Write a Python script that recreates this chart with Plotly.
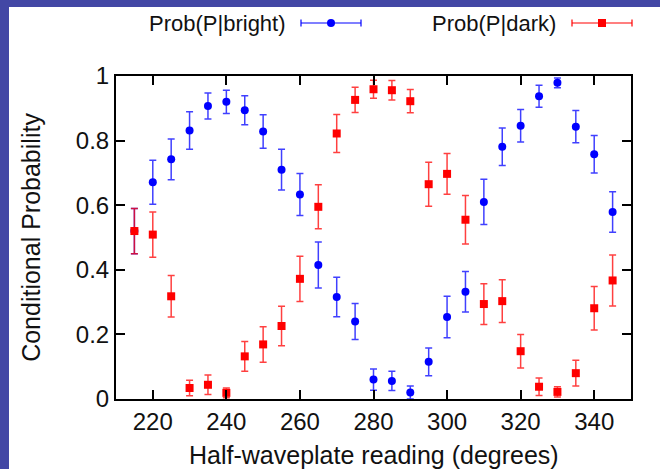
import plotly.graph_objects as go

# Data
angles = [215, 220, 225, 230, 235, 240, 245, 250, 255, 260, 265, 270, 275, 280,
          285, 290, 295, 300, 305, 310, 315, 320, 325, 330, 335, 340, 345]

prob_bright = [0.520, 0.671, 0.742, 0.831, 0.907, 0.920, 0.894, 0.828, 0.710, 0.633,
               0.415, 0.316, 0.240, 0.060, 0.056, 0.020, 0.115, 0.254, 0.332, 0.610,
               0.781, 0.846, 0.937, 0.979, 0.843, 0.758, 0.579]
err_bright = [0.070, 0.068, 0.063, 0.058, 0.040, 0.036, 0.045, 0.052, 0.063, 0.065,
              0.071, 0.061, 0.056, 0.033, 0.030, 0.020, 0.043, 0.064, 0.063, 0.070,
              0.058, 0.050, 0.034, 0.015, 0.050, 0.058, 0.063]

prob_dark = [0.520, 0.509, 0.318, 0.034, 0.044, 0.019, 0.132, 0.169, 0.226, 0.372,
             0.595, 0.822, 0.926, 0.959, 0.956, 0.922, 0.665, 0.697, 0.555, 0.294,
             0.303, 0.148, 0.038, 0.022, 0.080, 0.281, 0.367]
err_dark = [0.070, 0.070, 0.064, 0.024, 0.030, 0.015, 0.046, 0.055, 0.061, 0.070,
            0.068, 0.059, 0.039, 0.028, 0.030, 0.036, 0.068, 0.063, 0.075, 0.063,
            0.066, 0.052, 0.027, 0.016, 0.040, 0.067, 0.079]

x_ticks = [220, 240, 260, 280, 300, 320, 340]
y_ticks = [0, 0.2, 0.4, 0.6, 0.8, 1]
y_tick_labels = ["0", "0.2", "0.4", "0.6", "0.8", "1"]

series_names = ["Prob(P|bright)", "Prob(P|dark)"]
x_title = "Half-waveplate reading (degrees)"
y_title = "Conditional Probability"
BLUE = "#0000ff"
RED = "#ff0000"
FONT = "Liberation Sans, Arial, sans-serif"

fig = go.Figure()
fig.add_trace(go.Scatter(
    x=angles, y=prob_bright, mode="markers", name=series_names[0],
    marker=dict(symbol="circle", size=8, color=BLUE),
    error_y=dict(type="data", array=err_bright, visible=True,
                 color="rgba(0,0,255,0.75)", thickness=1.5, width=3.5),
    showlegend=False,
))
fig.add_trace(go.Scatter(
    x=angles, y=prob_dark, mode="markers", name=series_names[1],
    marker=dict(symbol="square", size=8, color=RED),
    error_y=dict(type="data", array=err_dark, visible=True,
                 color="rgba(255,0,0,0.75)", thickness=1.5, width=3.5),
    showlegend=False,
))

# plot area in pixels
W, H = 660, 469
L, R, T, B = 116, 631, 76, 399
pw, ph = R - L, B - T


def px(x):
    return (x - L) / pw


def py(y):
    return (B - y) / ph


shapes = []
# decorative blue frame (left and top strips)
FRAME = "#4347a5"
shapes.append(dict(type="rect", xref="paper", yref="paper",
                   x0=px(0), x1=px(9), y0=py(H), y1=py(0),
                   fillcolor=FRAME, line=dict(width=0), layer="above"))
shapes.append(dict(type="rect", xref="paper", yref="paper",
                   x0=px(0), x1=px(W), y0=py(7), y1=py(0),
                   fillcolor=FRAME, line=dict(width=0), layer="above"))

annotations = []
# x-axis title as annotation (keeps it within the page)
annotations.append(dict(xref="paper", yref="paper", x=0.5, y=py(455),
                        xanchor="center", yanchor="middle", showarrow=False,
                        text=x_title, font=dict(family=FONT, size=25, color="#111111")))

# custom gnuplot-style legend: text, then error-bar sample
legend_items = [
    (series_names[0], 288, 301, 361, BLUE, "circle"),
    (series_names[1], 558, 572, 632, RED, "square"),
]
ly = 23
for name, text_right, s0, s1, col, sym in legend_items:
    annotations.append(dict(xref="paper", yref="paper", x=px(text_right), y=py(ly),
                            xanchor="right", yanchor="middle", showarrow=False,
                            text=name, font=dict(family=FONT, size=22, color="#111111")))
    shapes.append(dict(type="line", xref="paper", yref="paper",
                       x0=px(s0), x1=px(s1), y0=py(ly), y1=py(ly),
                       line=dict(color=col, width=1.2)))
    for sx in (s0, s1):
        shapes.append(dict(type="line", xref="paper", yref="paper",
                           x0=px(sx), x1=px(sx), y0=py(ly - 3.5), y1=py(ly + 3.5),
                           line=dict(color=col, width=1.2)))
    mx = (s0 + s1) / 2
    shapes.append(dict(type="circle" if sym == "circle" else "rect",
                       xref="paper", yref="paper",
                       x0=px(mx - 4), x1=px(mx + 4), y0=py(ly + 4), y1=py(ly - 4),
                       fillcolor=col, line=dict(width=0)))

axis_common = dict(
    showgrid=False, zeroline=False, showline=True, linecolor="black", linewidth=2,
    mirror="ticks", ticks="inside", ticklen=9, tickwidth=2, tickcolor="black",
    tickfont=dict(family=FONT, size=24, color="#111111"),
)

fig.update_layout(
    width=W, height=H,
    margin=dict(l=L, r=W - R, t=T, b=H - B, pad=0),
    paper_bgcolor="white", plot_bgcolor="white",
    xaxis=dict(range=[210, 350], tickvals=x_ticks, **axis_common),
    yaxis=dict(range=[0, 1], tickvals=y_ticks, ticktext=y_tick_labels,
               title=dict(text=y_title, standoff=28,
                          font=dict(family=FONT, size=25, color="#111111")),
               **axis_common),
    shapes=shapes, annotations=annotations,
    showlegend=False,
)

# remove the browser's default 8px body margin so the figure sits at the page origin
fig.write_html("out.html",
               config={"displayModeBar": False, "staticPlot": True},
               post_script="document.body.style.margin='0';document.body.style.overflow='hidden';")
